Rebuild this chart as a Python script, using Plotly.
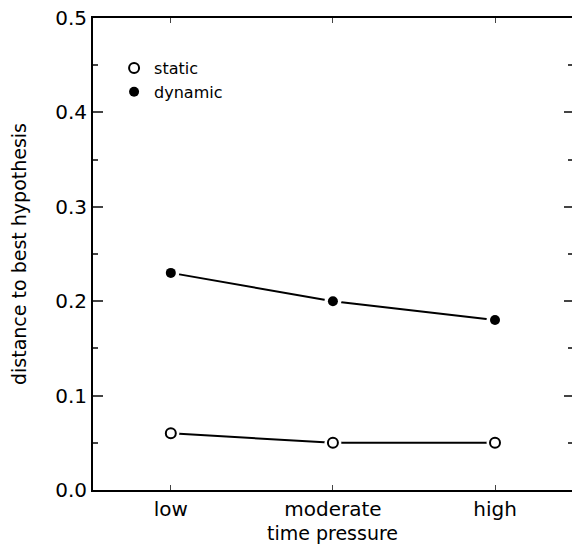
import plotly.graph_objects as go

categories = ["low", "moderate", "high"]
static_vals = [0.06, 0.05, 0.05]
dynamic_vals = [0.23, 0.20, 0.18]
y_ticks = [0.0, 0.1, 0.2, 0.3, 0.4, 0.5]
y_tick_labels = ["0.0", "0.1", "0.2", "0.3", "0.4", "0.5"]

xpos = list(range(len(categories)))
FONT = "DejaVu Sans, Verdana, sans-serif"

fig = go.Figure()
for vals in (static_vals, dynamic_vals):
    fig.add_trace(go.Scatter(x=xpos, y=vals, mode="lines",
                             line=dict(color="black", width=2),
                             showlegend=False, hoverinfo="skip"))
    # white halo to create gap between line and marker
    fig.add_trace(go.Scatter(x=xpos, y=vals, mode="markers",
                             marker=dict(size=17, color="white"),
                             showlegend=False, hoverinfo="skip"))

fig.add_trace(go.Scatter(x=xpos, y=static_vals, mode="markers", name="static",
                         marker=dict(symbol="circle", size=10, color="white",
                                     line=dict(color="black", width=2))))
fig.add_trace(go.Scatter(x=xpos, y=dynamic_vals, mode="markers", name="dynamic",
                         marker=dict(symbol="circle", size=10, color="black",
                                     line=dict(color="black", width=0))))
# invisible trace for right-side ticks
fig.add_trace(go.Scatter(x=xpos, y=dynamic_vals, yaxis="y2", mode="markers",
                         marker=dict(opacity=0), showlegend=False, hoverinfo="skip"))

fig.update_layout(
    width=572, height=551,
    margin=dict(l=93, r=0, t=18, b=61),
    paper_bgcolor="white", plot_bgcolor="white",
    font=dict(family=FONT, color="black", size=20),
    legend=dict(x=0.044, y=0.93, xanchor="left", yanchor="top",
                font=dict(size=16), bgcolor="rgba(0,0,0,0)",
                itemwidth=30, tracegroupgap=0),
    xaxis=dict(range=[-0.48, 2.475], tickmode="array", tickvals=xpos,
               ticktext=categories, ticks="inside", ticklen=5, tickwidth=1,
               showline=True, linecolor="black", linewidth=2, mirror="ticks",
               showgrid=False, zeroline=False,
               title=dict(text="time pressure", font=dict(size=19), standoff=7),
               tickfont=dict(size=20)),
    yaxis=dict(range=[0, 0.5], tickmode="array", tickvals=y_ticks,
               ticktext=y_tick_labels, ticks="inside", ticklen=10, tickwidth=2,
               minor=dict(ticks="inside", ticklen=5, tickwidth=2, dtick=0.05,
                          tick0=0, showgrid=False),
               showline=True, linecolor="black", linewidth=2,
               showgrid=False, zeroline=False,
               title=dict(text="distance to best hypothesis", font=dict(size=19),
                          standoff=24),
               tickfont=dict(size=20)),
    yaxis2=dict(range=[0, 0.5], overlaying="y", side="right", tickmode="array",
                tickvals=y_ticks, showticklabels=False, ticks="inside",
                ticklen=8, tickwidth=2,
                minor=dict(ticks="inside", ticklen=4, tickwidth=2, dtick=0.05,
                           tick0=0, showgrid=False),
                showline=False, showgrid=False, zeroline=False),
)

fig.write_html("out.html")
